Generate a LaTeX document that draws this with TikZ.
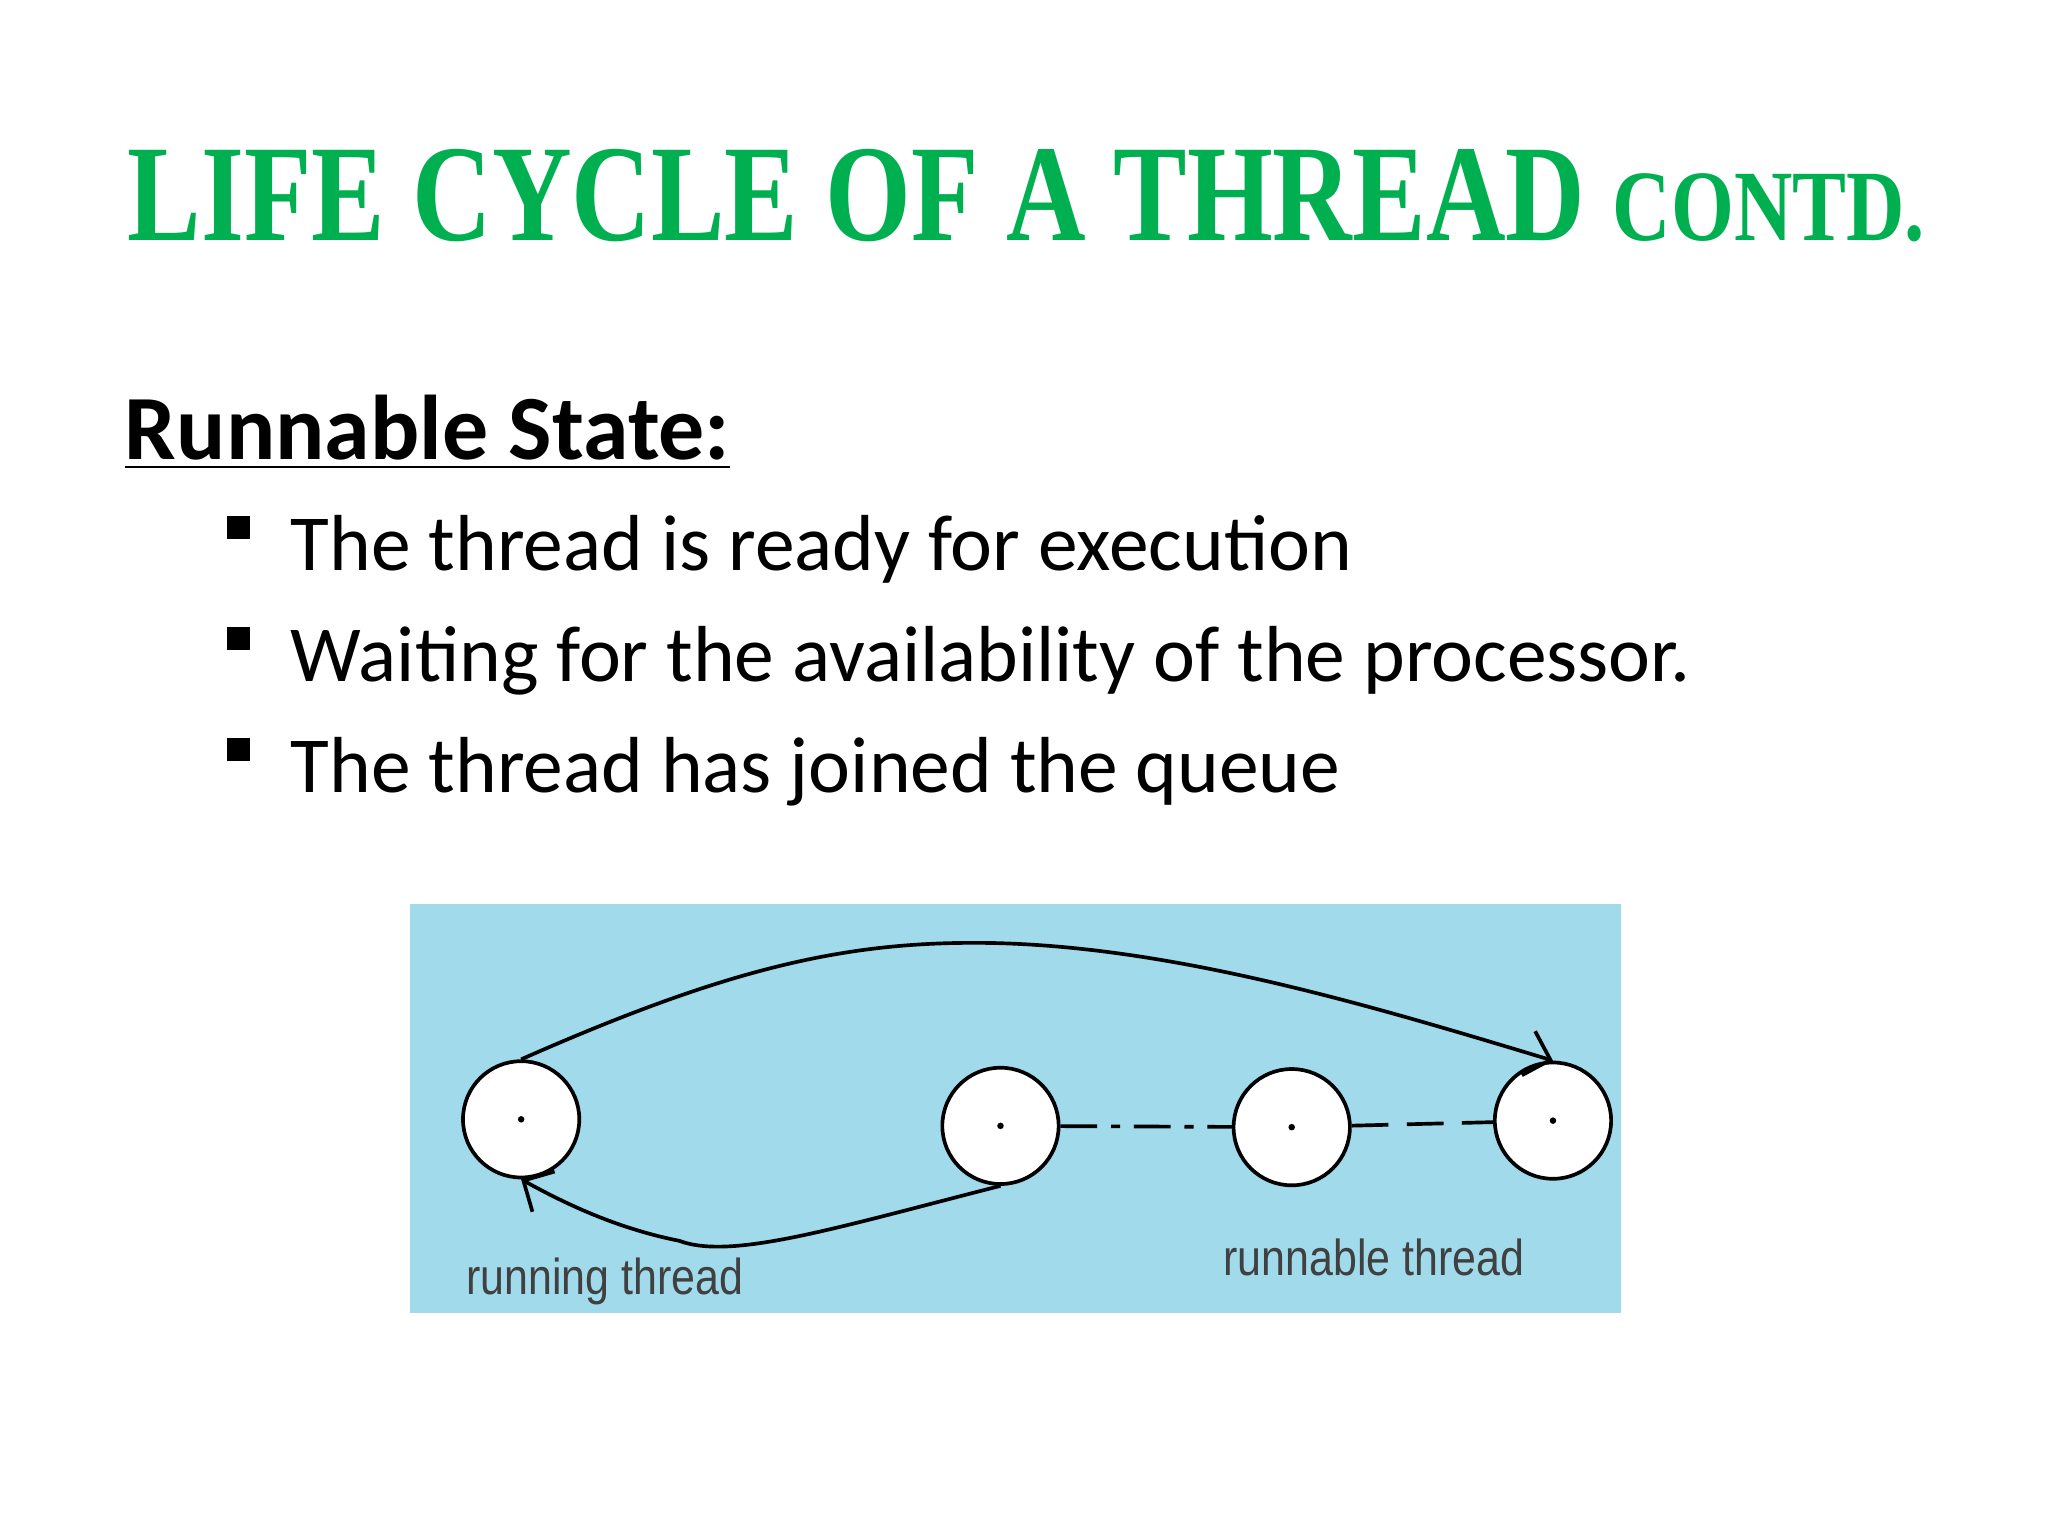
\documentclass[tikz,border=0pt]{standalone}
\usepackage{fontspec}
\setmainfont{Carlito}
\newfontfamily\titlefont{Liberation Serif}
\newfontfamily\lblfont{Liberation Sans}
\definecolor{tgreen}{RGB}{0,176,80}
\definecolor{panel}{RGB}{160,218,235}
\usetikzlibrary{arrows.meta}
\newcommand{\bsq}{\makebox[0pt][r]{\raisebox{7pt}{\rule{5pt}{5pt}}\hspace{9pt}}}
\begin{document}
\begin{tikzpicture}[x=0.01cm,y=-0.01cm,
  st/.style={circle,draw,thick,fill=white,minimum size=0.89cm,inner sep=0pt},
  lbl/.style={font=\lblfont\fontsize{11}{13}\selectfont,text=black!75},
  bul/.style={anchor=base west,inner sep=0,font=\fontsize{17.3}{21}\selectfont}]
\useasboundingbox (0,0) rectangle (1568,1176);
\node[anchor=base west,text=tgreen,font=\titlefont\bfseries\fontsize{30}{36}\selectfont,inner sep=0] (title) at (97,184) {\scalebox{0.8}[1]{LIFE CYCLE OF A THREAD {\fontsize{22}{26}\selectfont CONTD.}}};
\node[anchor=base west,inner sep=0,font=\bfseries\fontsize{20}{25}\selectfont] (head) at (95,352) {\underline{Runnable State:}};
\node[bul] (b1) at (222,437) {\bsq The thread is ready for execution};
\node[bul] (b2) at (222,522) {\bsq Waiting for the availability of the processor.};
\node[bul] (b3) at (222,607) {\bsq The thread has joined the queue};
\fill[panel] (314,692) rectangle (1241,1005);
\node[st] (c1) at (399,857) {};
\node[st] (c2) at (766,862) {};
\node[st] (c3) at (989,863) {};
\node[st] (c4) at (1189,858) {};
\foreach \c in {c1,c2,c3,c4} \fill (\c) circle (2.5);
\draw[thick,dash pattern=on 8pt off 3pt on 2pt off 3pt] (c2) -- (c3);
\draw[thick,dash pattern=on 8pt off 4pt] (c3) -- (c4);
\draw[thick,-{Straight Barb[length=5pt]}] (c1.north) .. controls (560,740) and (650,720) .. (760,722) .. controls (900,725) and (1050,770) .. (c4.north);
\draw[thick,-{Straight Barb[length=5pt]}] (c2.south) .. controls (640,940) and (560,965) .. (520,950) .. controls (470,940) and (430,920) .. (c1.south);
\node[lbl] (l1) at (463,981) {\scalebox{0.85}[1]{running thread}};
\node[lbl] (l2) at (1052,963) {\scalebox{0.85}[1]{runnable thread}};
\end{tikzpicture}
\end{document}
